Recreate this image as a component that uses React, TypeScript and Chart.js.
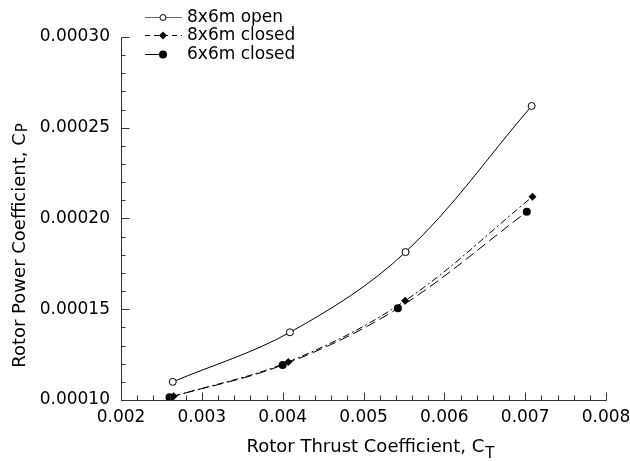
import React, { useEffect, useRef } from 'react';
import { Chart, registerables } from 'chart.js';

Chart.register(...registerables);

// ---- data ----
const seriesNames = ['8x6m open', '8x6m closed', '6x6m closed'];
const openCT = [0.00264, 0.00409, 0.00552, 0.00708];
const openCP = [0.00011, 0.0001373, 0.0001815, 0.000262];
const closed8CT = [0.00265, 0.00407, 0.005515, 0.00709];
const closed8CP = [0.000102, 0.000121, 0.0001547, 0.000212];
const closed6CT = [0.0026, 0.004, 0.005425, 0.00702];
const closed6CP = [0.0001015, 0.0001193, 0.0001505, 0.0002037];
const xTickValues = [0.002, 0.003, 0.004, 0.005, 0.006, 0.007, 0.008];
const yTickValues = [0.0001, 0.00015, 0.0002, 0.00025, 0.0003];
const xTitle = 'Rotor Thrust Coefficient, C';
const xTitleSub = 'T';
const yTitle = 'Rotor Power Coefficient, C';
const yTitleSub = 'P';

const FONT = '"DejaVu Sans", sans-serif';
const AXIS = '#333';

const toPoints = (xs: number[], ys: number[]) => xs.map((x, i) => ({ x, y: ys[i] }));

const decorPlugin = {
  id: 'decor',
  afterDraw(chart: any) {
    const { ctx } = chart;
    const xs = chart.scales.x;
    const ys = chart.scales.y;
    const xMin = xTickValues[0];
    const xMax = xTickValues[xTickValues.length - 1];
    const yMin = yTickValues[0];
    const yMax = yTickValues[yTickValues.length - 1];
    const left = Math.round(xs.getPixelForValue(xMin)) + 0.5;
    const right = Math.round(xs.getPixelForValue(xMax)) + 0.5;
    const bottom = Math.round(ys.getPixelForValue(yMin)) + 0.5;
    const top = Math.round(ys.getPixelForValue(yMax)) + 0.5;
    ctx.save();
    ctx.strokeStyle = AXIS;
    ctx.lineWidth = 1;
    ctx.beginPath();
    ctx.moveTo(left, top);
    ctx.lineTo(left, bottom);
    ctx.lineTo(right, bottom);
    ctx.stroke();
    // x ticks (inward)
    const xSub = 5;
    for (let i = 0; i < xTickValues.length; i++) {
      for (let k = 0; k < xSub; k++) {
        if (i === xTickValues.length - 1 && k > 0) break;
        const v = xTickValues[i] + (k * (xTickValues[1] - xTickValues[0])) / xSub;
        const px = Math.round(xs.getPixelForValue(v)) + 0.5;
        const len = k === 0 ? 8 : 5;
        ctx.beginPath();
        ctx.moveTo(px, bottom);
        ctx.lineTo(px, bottom - len);
        ctx.stroke();
      }
    }
    const ySub = 5;
    for (let i = 0; i < yTickValues.length; i++) {
      for (let k = 0; k < ySub; k++) {
        if (i === yTickValues.length - 1 && k > 0) break;
        const v = yTickValues[i] + (k * (yTickValues[1] - yTickValues[0])) / ySub;
        const py = Math.round(ys.getPixelForValue(v)) + 0.5;
        const len = k === 0 ? 8 : 4;
        ctx.beginPath();
        ctx.moveTo(left, py);
        ctx.lineTo(left + len, py);
        ctx.stroke();
      }
    }

    // axis titles with subscripts
    ctx.fillStyle = '#000';
    const mainFont = `18px ${FONT}`;
    const subFont = `15px ${FONT}`;
    const drawTitle = (main: string, sub: string, cx: number, cy: number, rot: number, subDrop: number) => {
      ctx.save();
      ctx.translate(cx, cy);
      ctx.rotate(rot);
      ctx.textBaseline = 'middle';
      ctx.textAlign = 'left';
      ctx.font = mainFont;
      const w1 = ctx.measureText(main).width;
      ctx.font = subFont;
      const w2 = ctx.measureText(sub).width;
      const start = -(w1 + w2) / 2;
      ctx.font = mainFont;
      ctx.fillText(main, start, 0);
      ctx.font = subFont;
      ctx.fillText(sub, start + w1 + 1, subDrop);
      ctx.restore();
    };
    const plotCx = (left + right) / 2;
    const plotCy = (top + bottom) / 2;
    drawTitle(xTitle, xTitleSub, 370, bottom + 47, 0, 7);
    drawTitle(yTitle, yTitleSub, 20, plotCy + 27, -Math.PI / 2, 3);

    // legend
    const lx0 = 145;
    const lx1 = 182;
    const mx = 163;
    const tx = 187;
    const rows = [17, 35, 54];
    ctx.font = `17px ${FONT}`;
    ctx.textBaseline = 'middle';
    ctx.textAlign = 'left';
    chart.data.datasets.forEach((ds: any, i: number) => {
      const yy = rows[i] + 0.5;
      ctx.save();
      ctx.strokeStyle = i === 0 ? '#666' : '#000';
      ctx.lineWidth = 1;
      if (i === 1) ctx.setLineDash([5, 4]);
      ctx.beginPath();
      ctx.moveTo(lx0, yy);
      ctx.lineTo(i === 2 ? mx : lx1, yy);
      ctx.stroke();
      ctx.setLineDash([]);
      ctx.fillStyle = '#000';
      ctx.strokeStyle = '#000';
      if (i === 0) {
        ctx.fillStyle = '#fff';
        ctx.beginPath();
        ctx.arc(mx, yy, 3, 0, Math.PI * 2);
        ctx.fill();
        ctx.stroke();
      } else if (i === 1) {
        ctx.beginPath();
        ctx.moveTo(mx, yy - 4);
        ctx.lineTo(mx + 4, yy);
        ctx.lineTo(mx, yy + 4);
        ctx.lineTo(mx - 4, yy);
        ctx.closePath();
        ctx.fill();
      } else {
        ctx.beginPath();
        ctx.arc(mx, yy, 4, 0, Math.PI * 2);
        ctx.fill();
      }
      ctx.fillStyle = '#000';
      ctx.fillText(ds.label, tx, rows[i] + 1);
      ctx.restore();
    });
    ctx.restore();
  },
};

export default function App() {
  const ref = useRef<HTMLCanvasElement | null>(null);
  useEffect(() => {
    if (!ref.current) return;
    const chart = new Chart(ref.current, {
      type: 'line',
      data: {
        datasets: [
          {
            label: seriesNames[0],
            data: toPoints(openCT, openCP),
            borderColor: '#000',
            borderWidth: 1,
            backgroundColor: '#fff',
            pointStyle: 'circle',
            pointRadius: 3.5,
            pointBorderWidth: 1,
            pointBorderColor: '#000',
            pointBackgroundColor: '#fff',
            tension: 0.35,
          },
          {
            label: seriesNames[1],
            data: toPoints(closed8CT, closed8CP),
            borderColor: '#000',
            borderWidth: 1,
            borderDash: [7, 3, 2, 3],
            pointStyle: 'rectRot',
            pointRadius: 4,
            pointBorderWidth: 0,
            pointBackgroundColor: '#000',
            tension: 0.35,
          },
          {
            label: seriesNames[2],
            data: toPoints(closed6CT, closed6CP),
            borderColor: '#000',
            borderWidth: 1,
            borderDash: [10, 5],
            pointStyle: 'circle',
            pointRadius: 4,
            pointBorderWidth: 0,
            pointBackgroundColor: '#000',
            tension: 0.35,
          },
        ],
      },
      options: {
        animation: false,
        responsive: false,
        maintainAspectRatio: false,
        layout: { padding: { top: 37, right: 24, left: 0, bottom: 0 } },
        plugins: { legend: { display: false }, tooltip: { enabled: false } },
        scales: {
          x: {
            type: 'linear',
            min: xTickValues[0],
            max: xTickValues[xTickValues.length - 1],
            grid: { display: false, drawTicks: false },
            border: { display: false },
            afterFit: (s: any) => {
              s.height = 61;
              s.paddingLeft = 0;
              s.paddingRight = 0;
            },
            afterBuildTicks: (s: any) => {
              s.ticks = xTickValues.map((v) => ({ value: v }));
            },
            ticks: {
              padding: 7,
              color: '#000',
              font: { family: FONT, size: 17 },
              maxRotation: 0,
              autoSkip: false,
              callback: (v: any) => Number(v).toFixed(3),
            },
          },
          y: {
            type: 'linear',
            min: yTickValues[0],
            max: yTickValues[yTickValues.length - 1],
            grid: { display: false, drawTicks: false },
            border: { display: false },
            afterFit: (s: any) => {
              s.width = 121;
              s.paddingTop = 0;
              s.paddingBottom = 0;
            },
            afterBuildTicks: (s: any) => {
              s.ticks = yTickValues.map((v) => ({ value: v }));
            },
            ticks: {
              padding: 11,
              color: '#000',
              font: { family: FONT, size: 17 },
              autoSkip: false,
              callback: (v: any) => Number(v).toFixed(5),
            },
          },
        },
      },
      plugins: [decorPlugin],
    });
    return () => chart.destroy();
  }, []);
  return (
    <div style={{ position: 'fixed', left: 0, top: 0, width: 630, height: 461, background: '#fff' }}>
      <canvas ref={ref} width={630} height={461} style={{ display: 'block', width: 630, height: 461 }} />
    </div>
  );
}
